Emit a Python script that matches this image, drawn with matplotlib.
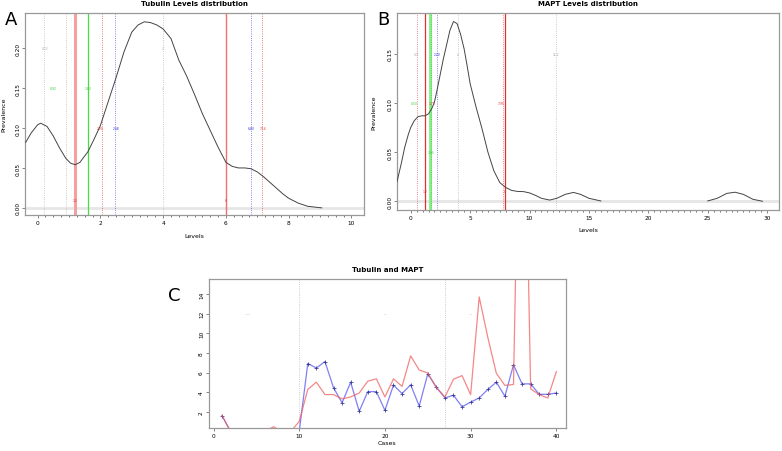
import numpy as np
import matplotlib
matplotlib.use("Agg")
import matplotlib.pyplot as plt

# density curve (Tubulin)
tub_x = [-0.38, -0.2, 0.0, 0.1, 0.3, 0.5, 0.7, 0.9, 1.05, 1.2, 1.35, 1.5, 1.6, 1.8, 2.0,
         2.25, 2.5, 2.75, 3.0, 3.2, 3.4, 3.6, 3.8, 4.0, 4.25, 4.5, 4.75, 5.0, 5.25, 5.5,
         5.75, 6.0, 6.2, 6.4, 6.6, 6.8, 7.0, 7.2, 7.4, 7.6, 7.8, 8.0, 8.3, 8.6, 9.05]
tub_y = [0.082, 0.094, 0.104, 0.106, 0.102, 0.090, 0.075, 0.062, 0.056, 0.054, 0.057, 0.065,
         0.070, 0.086, 0.103, 0.133, 0.163, 0.195, 0.220, 0.229, 0.233, 0.232, 0.229, 0.224,
         0.212, 0.185, 0.165, 0.142, 0.118, 0.097, 0.076, 0.057, 0.052, 0.050, 0.050, 0.049,
         0.045, 0.039, 0.032, 0.025, 0.018, 0.012, 0.006, 0.002, 0.0]

# density curve (MAPT), two separate pieces
mapt_x = [-1.15, -0.8, -0.5, -0.2, 0.0, 0.3, 0.6, 0.9, 1.2, 1.5, 1.8, 2.0, 2.25, 2.5, 2.75,
          3.0, 3.3, 3.6, 3.9, 4.2, 4.5, 4.75, 5.0, 5.5, 6.0, 6.5, 7.0, 7.5, 8.0, 8.5, 9.0,
          9.5, 10.0, 10.5, 11.0, 11.7, 12.3, 13.0, 13.7, 14.3, 15.0, 16.0]
mapt_y = [0.020, 0.038, 0.055, 0.068, 0.075, 0.082, 0.086, 0.087, 0.087, 0.089, 0.095, 0.101,
          0.115, 0.130, 0.145, 0.158, 0.174, 0.183, 0.181, 0.170, 0.155, 0.138, 0.120, 0.096,
          0.074, 0.050, 0.031, 0.019, 0.014, 0.011, 0.010, 0.0098, 0.0085, 0.006, 0.003,
          0.0012, 0.003, 0.007, 0.009, 0.007, 0.003, 0.0003]
mapt_x2 = [25.0, 25.8, 26.6, 27.3, 28.0, 28.8, 29.6]
mapt_y2 = [0.0003, 0.003, 0.008, 0.0092, 0.007, 0.002, 0.0]

# panel C series
cases = list(range(1, 41))
tubulin = [1.6, 0, 0, 0, 0, 0, 0, 0, 0, 0, 6.93, 6.47, 7.13, 4.47, 2.93, 5.03, 2.07, 4.07,
           4.07, 2.17, 4.73, 3.87, 4.77, 2.6, 5.87, 4.53, 3.43, 3.7, 2.53, 3.0, 3.43, 4.3,
           5.03, 3.6, 6.8, 4.86, 4.86, 3.8, 3.8, 3.93]
mapt = [1.65, 0, 0, 0, 0, 0, 0.5, 0, 0, 1.03, 4.3, 5.03, 3.77, 3.77, 3.33, 3.53, 3.93, 5.13,
        5.37, 3.53, 5.37, 4.6, 7.7, 6.27, 5.97, 4.47, 3.53, 5.33, 5.7, 3.76, 13.7, 9.6, 5.93,
        4.7, 4.8, 50.0, 4.36, 3.76, 3.43, 6.1]

GRAY = "#999999"
fs = 4.2

fig = plt.figure(figsize=(7.82, 4.52), dpi=100)


def style(ax):
    for s in ax.spines.values():
        s.set_color(GRAY)
        s.set_linewidth(0.9)
    ax.tick_params(labelsize=fs, length=2, width=0.5, color="#555555", pad=1.5)
    ax.tick_params(which="minor", length=1.5, width=0.5, color="#444444")
    for lab in ax.get_yticklabels():
        lab.set_rotation(90)
        lab.set_va("center")


def vline(ax, x, color, lw=0.6, ls=":", alpha=1.0):
    ax.axvline(x, color=color, lw=lw, ls=ls, alpha=alpha, zorder=1)


def lab(ax, x, y, s, color):
    ax.text(x, y, s, fontsize=2.2, color=color, ha="center", va="center")


# ---------- A ----------
axA = fig.add_axes([0.032, 0.522, 0.4335, 0.447])
axA.axhline(0, color="#e6e6e6", lw=2, zorder=0)
for x in [0.22, 0.92, 4.0]:
    vline(axA, x, "#bbbbbb")
vline(axA, 1.2, "#f4a0a0", lw=2.2, ls="-")
vline(axA, 1.6, "#44dd44", lw=0.9, ls="-")
vline(axA, 2.05, "#e05050")
vline(axA, 2.48, "#6060e0")
vline(axA, 6.0, "#f07070", lw=1.0, ls="-")
vline(axA, 6.8, "#6060e0")
vline(axA, 7.14, "#e05050")
axA.plot(tub_x, tub_y, color="#444444", lw=0.7, zorder=3)
lab(axA, 0.25, 0.20, "0.22", "#aaaaaa")
lab(axA, 4.0, 0.20, "4", "#bbbbbb")
lab(axA, 4.0, 0.15, "4", "#bbbbbb")
lab(axA, 0.5, 0.15, "0.92", "#33cc33")
lab(axA, 1.6, 0.15, "1.60", "#33cc33")
lab(axA, 2.0, 0.10, "2.05", "#e03030")
lab(axA, 2.5, 0.10, "2.48", "#3030e0")
lab(axA, 6.8, 0.10, "6.80", "#3030e0")
lab(axA, 7.2, 0.10, "7.14", "#e03030")
lab(axA, 1.2, 0.01, "1.2", "#e03030")
lab(axA, 6.0, 0.01, "6", "#e03030")
axA.set_xlim(-0.4, 10.4)
axA.set_ylim(-0.009, 0.244)
axA.set_xticks([0, 2, 4, 6, 8, 10])
axA.set_xticks(np.arange(0, 10.01, 0.25), minor=True)
axA.set_yticks([0.0, 0.05, 0.10, 0.15, 0.20])
axA.set_yticklabels(["0.00", "0.05", "0.10", "0.15", "0.20"])
style(axA)
axA.set_title("Tubulin Levels distribution", fontsize=5, fontweight="bold", pad=6)
axA.set_xlabel("Levels", fontsize=4.5, labelpad=6)
axA.set_ylabel("Prevalence", fontsize=4.5, labelpad=6)
fig.text(0.006, 0.955, "A", fontsize=13, va="center")

# ---------- B ----------
axB = fig.add_axes([0.5077, 0.533, 0.4885, 0.436])
axB.axhline(0, color="#e6e6e6", lw=2, zorder=0)
for x in [4.0, 12.2]:
    vline(axB, x, "#bbbbbb")
vline(axB, 0.5, "#e06060")
vline(axB, 1.2, "#e03030", lw=0.9, ls="-")
vline(axB, 1.65, "#88ee88", lw=2.0, ls="-")
vline(axB, 1.75, "#33cc33")
vline(axB, 2.2, "#6060e0")
vline(axB, 7.75, "#e06060")
vline(axB, 7.95, "#e03030", lw=0.9, ls="-")
axB.plot(mapt_x, mapt_y, color="#444444", lw=0.7, zorder=3)
axB.plot(mapt_x2, mapt_y2, color="#444444", lw=0.7, zorder=3)
lab(axB, 0.5, 0.15, "0.5", "#aaaaaa")
lab(axB, 4.0, 0.15, "4", "#aaaaaa")
lab(axB, 12.2, 0.15, "12.2", "#aaaaaa")
lab(axB, 2.2, 0.15, "2.20", "#3030e0")
lab(axB, 0.3, 0.10, "0.50", "#33cc33")
lab(axB, 1.8, 0.10, "1.75", "#e03030")
lab(axB, 7.6, 0.10, "7.95", "#e03030")
lab(axB, 1.7, 0.05, "1.65", "#33cc33")
lab(axB, 1.2, 0.01, "1.2", "#e03030")
lab(axB, 7.95, 0.01, "8", "#e03030")
axB.set_xlim(-1.15, 31.0)
axB.set_ylim(-0.009, 0.1917)
axB.set_xticks([0, 5, 10, 15, 20, 25, 30])
axB.set_xticks(np.arange(0, 30.01, 0.5), minor=True)
axB.set_yticks([0.0, 0.05, 0.10, 0.15])
axB.set_yticklabels(["0.00", "0.05", "0.10", "0.15"])
style(axB)
axB.set_title("MAPT Levels distribution", fontsize=5, fontweight="bold", pad=6)
axB.set_xlabel("Levels", fontsize=4.5, labelpad=5)
axB.set_ylabel("Prevalence", fontsize=4.5, labelpad=8)
fig.text(0.483, 0.955, "B", fontsize=13, va="center")

# ---------- C ----------
axC = fig.add_axes([0.267, 0.05, 0.4565, 0.33])
vline(axC, 10, "#bbbbbb")
vline(axC, 27, "#bbbbbb")
axC.plot(cases, tubulin, color="#6a6af0", lw=0.9, alpha=0.85, marker="+", ms=2.2,
         mec="#222288", mew=0.6)
axC.plot(cases, mapt, color="#f06060", lw=0.9, alpha=0.75)
lab(axC, 4, 12, "——", "#aaaaaa")
lab(axC, 20, 12, "—", "#aaaaaa")
lab(axC, 30, 12, "—", "#aaaaaa")
axC.set_xlim(-0.55, 41.1)
axC.set_ylim(0.33, 15.5)
axC.set_xticks([0, 10, 20, 30, 40])
axC.set_yticks([2, 4, 6, 8, 10, 12, 14])
style(axC)
axC.set_title("Tubulin and MAPT", fontsize=5, fontweight="bold", pad=6)
axC.set_xlabel("Cases", fontsize=4.5, labelpad=1.5)
fig.text(0.215, 0.345, "C", fontsize=13, va="center")

fig.savefig("out.png", dpi=100)
